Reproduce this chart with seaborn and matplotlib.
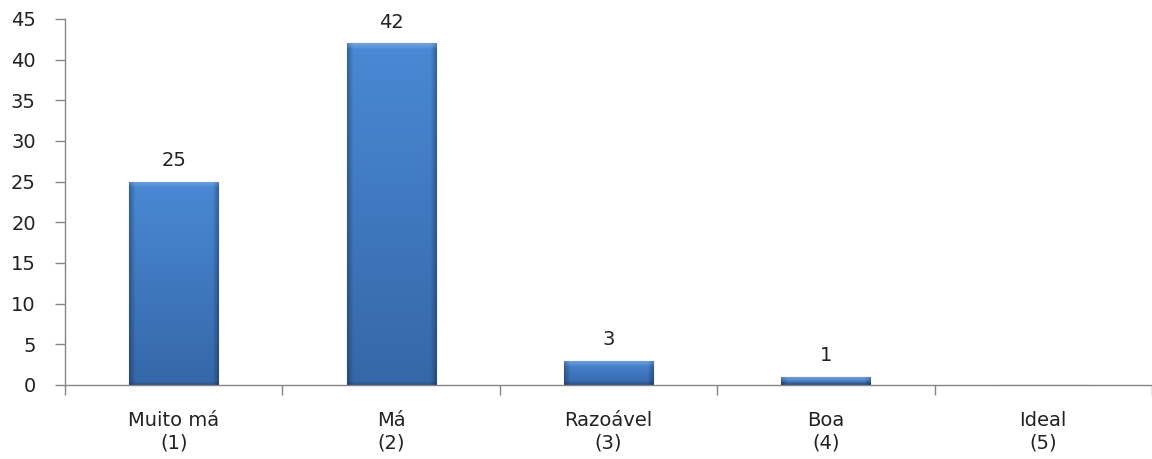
import numpy as np
import pandas as pd
import seaborn as sns
import matplotlib.pyplot as plt
from matplotlib.colors import to_rgb

categories = ["Muito má\n(1)", "Má\n(2)", "Razoável\n(3)", "Boa\n(4)", "Ideal\n(5)"]
counts = [25, 42, 3, 1, 0]
y_ticks = [0, 5, 10, 15, 20, 25, 30, 35, 40, 45]

sns.set_theme(style="white")
plt.rcParams["font.family"] = ["DejaVu Sans"]

W, H = 1152, 459
fig = plt.figure(figsize=(W / 100, H / 100), dpi=100)
ax = fig.add_axes([65 / W, 74 / H, 1 - 65 / W, (385 - 19) / H])

df = pd.DataFrame({"categoria": categories, "n": counts})
sns.barplot(data=df, x="categoria", y="n", ax=ax, width=0.41,
            color="#3f7cc6", saturation=1, edgecolor="#2a5590", linewidth=0.8)

ax.set_xlim(-0.5, 4.5)
ax.set_ylim(0, 45)

# Bevelled blue shading on each bar, built in pixel units
top_c = np.array(to_rgb("#4a89d5"))
bot_c = np.array(to_rgb("#3567a8"))
px_per_unit = (385 - 19) / 45.0
bar_px = ax.patches[0].get_width() * (W - 65) / 5.0
for p in ax.patches:
    h = p.get_height()
    if h <= 0:
        continue
    rows = max(int(round(h * px_per_unit)), 2)
    cols = max(int(round(bar_px)), 2)
    t = np.linspace(0, 1, rows)[:, None, None]
    img = top_c * (1 - t) + bot_c * t
    img = np.repeat(img, cols, axis=1)
    xi = np.arange(cols)
    side = np.minimum(xi, cols - 1 - xi)
    side_f = np.where(side < 6, 0.72 + 0.28 * side / 6, 1.0)
    img = img * side_f[None, :, None]
    yi = np.arange(rows)
    top_band = np.clip(1 - yi / 6.0, 0, 1)
    img = img + (1 - img) * 0.22 * top_band[:, None, None]
    bot_band = np.clip(1 - (rows - 1 - yi) / 3.0, 0, 1)
    img = img * (1 - 0.2 * bot_band[:, None, None])
    x0, w = p.get_x(), p.get_width()
    im = ax.imshow(np.clip(img, 0, 1), extent=[x0, x0 + w, 0, h], aspect="auto",
                   origin="upper", zorder=p.get_zorder() + 0.1, interpolation="bilinear")
    im.set_clip_path(p)

labels = [str(v) if v else "" for v in counts]
ax.bar_label(ax.containers[0], labels=labels, padding=8.5, fontsize=14, color="#222222")

ax.set_yticks(y_ticks)
ax.set_xlabel("")
ax.set_ylabel("")

for s in ["top", "right"]:
    ax.spines[s].set_visible(False)
for s in ["left", "bottom"]:
    ax.spines[s].set_color("#868686")
    ax.spines[s].set_linewidth(1)

ax.tick_params(axis="y", which="major", left=True, length=7, width=1, color="#868686",
               pad=14, labelsize=14, labelcolor="#222222")
ax.set_xticks(np.arange(-0.5, 4.6, 1), minor=True)
ax.tick_params(axis="x", which="minor", bottom=True, length=7, width=1, color="#868686")
ax.tick_params(axis="x", which="major", bottom=False, length=0, pad=19,
               labelsize=14, labelcolor="#222222")
ax.grid(False)

fig.savefig("out.png", dpi=100)
